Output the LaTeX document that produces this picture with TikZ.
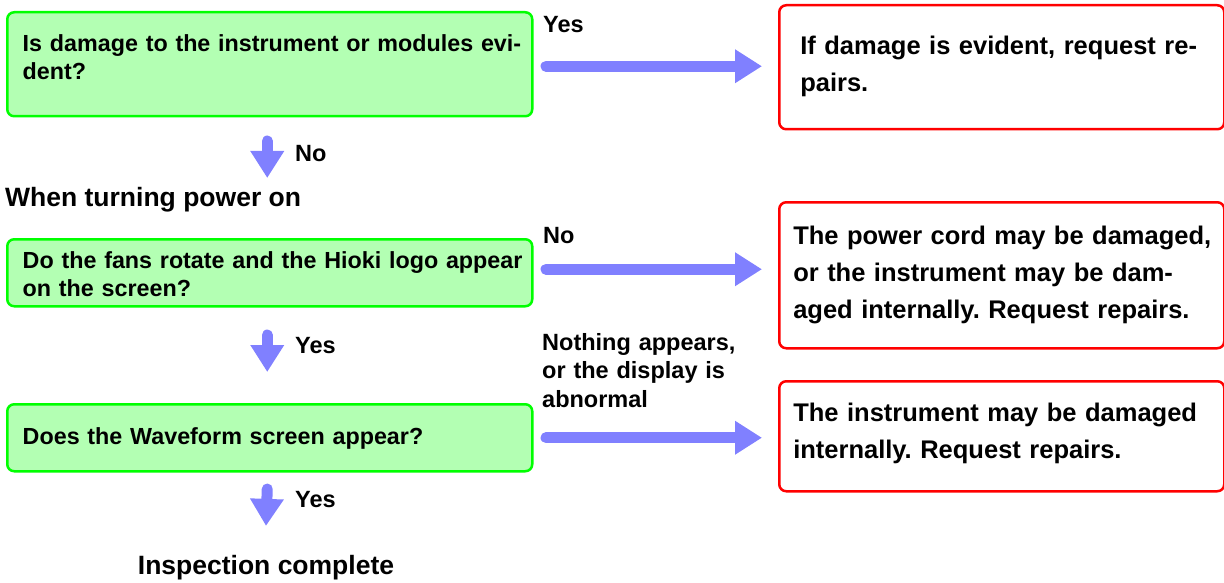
\documentclass[tikz,border=0pt]{standalone}
\usepackage{fontspec}
\setmainfont{Liberation Sans}
\frenchspacing
\usetikzlibrary{arrows.meta,positioning}
\definecolor{chkgreen}{RGB}{0,255,0}
\definecolor{chkfill}{RGB}{179,255,179}
\definecolor{chkred}{RGB}{255,0,0}
\definecolor{flowblue}{RGB}{128,128,255}

\begin{document}
\begin{tikzpicture}[x=1pt,y=-1pt,
  question/.style={draw=chkgreen,fill=chkfill,line width=2.5pt,rounded corners=7pt,anchor=north west,
    inner xsep=15.5pt,inner ysep=0pt,text width=494pt,align=left,
    font=\bfseries\fontsize{23.3}{28}\selectfont},
  verdict/.style={draw=chkred,line width=2.5pt,rounded corners=7pt,anchor=north west,
    inner ysep=0pt,align=left,font=\bfseries\fontsize{25.5}{37}\selectfont},
  answer/.style={anchor=base west,inner sep=0pt,align=left,font=\bfseries\fontsize{23.5}{28.5}\selectfont},
  heading/.style={inner sep=0pt,font=\bfseries\fontsize{26.5}{32}\selectfont},
  flow/.style={draw=flowblue,line width=11pt,line cap=round,-{Triangle[length=27pt,width=32pt]}}]
  \useasboundingbox (0,0) rectangle (1224,583);
  % questions on the left
  \node[question,text height=39pt,text depth=65pt] (qDamage) at (6,11)
    {\mbox{Is damage to the instrument or modules evi-}\\dent?};
  \node[heading,anchor=base west] (powerOn) at (5,206) {When turning power on};
  \node[question,text height=29pt,text depth=38pt] (qPower) at (6,238)
    {\mbox{Do the fans rotate and the Hioki logo appear}\\on the screen?};
  \node[question,text height=40pt,text depth=27pt] (qWave) at (6,403)
    {Does the Waveform screen appear?};
  \node[heading,anchor=base] (done) at (266,574) {Inspection complete};
  % verdicts on the right
  \node[verdict,inner xsep=21pt,text width=403pt,text height=49pt,text depth=75pt] (rDamage) at (778,4)
    {\mbox{If damage is evident, request re-}\\pairs.};
  \node[verdict,inner xsep=14pt,text width=417pt,text height=42pt,text depth=104pt] (rPower) at (778,201)
    {\mbox{The power cord may be damaged,}\\\mbox{or the instrument may be dam-}\\\mbox{aged internally. Request repairs.}};
  \node[verdict,inner xsep=14pt,text width=417pt,text height=40pt,text depth=70pt] (rWave) at (778,380)
    {\mbox{The instrument may be damaged}\\\mbox{internally. Request repairs.}};
  % answers
  \node[answer] (yesDamage) at (543,33) {Yes};
  \node[answer] (noDamage) at (295,161) {No};
  \node[answer] (noPower) at (543,243) {No};
  \node[answer] (yesPower) at (295,353) {Yes};
  \node[answer,text width=210pt] (noWave) at (542,350) {Nothing appears,\\or the display is\\abnormal};
  \node[answer] (yesWave) at (295,507) {Yes};
  % arrows
  \draw[flow] ([xshift=12.5pt,yshift=-2pt]qDamage.east) -- ([xshift=-16pt,yshift=-2pt]qDamage.east -| rDamage.west);
  \draw[flow] ([xshift=12.5pt,yshift=3.5pt]qPower.east) -- ([xshift=-16pt,yshift=3.5pt]qPower.east -| rPower.west);
  \draw[flow] ([xshift=12.5pt]qWave.east) -- ([xshift=-16pt]qWave.east -| rWave.west);
  \draw[flow] ([xshift=-2.5pt,yshift=-23.5pt]qDamage.south) -- ([xshift=-2.5pt,yshift=8.6pt]powerOn.north -| qDamage.south);
  \draw[flow] ([xshift=-2.5pt,yshift=-27.5pt]qPower.south) -- ([xshift=-2.5pt,yshift=31pt]qWave.north);
  \draw[flow] ([xshift=-2.5pt,yshift=-16.5pt]qWave.south) -- ([yshift=28.7pt]done.north);
\end{tikzpicture}
\end{document}
